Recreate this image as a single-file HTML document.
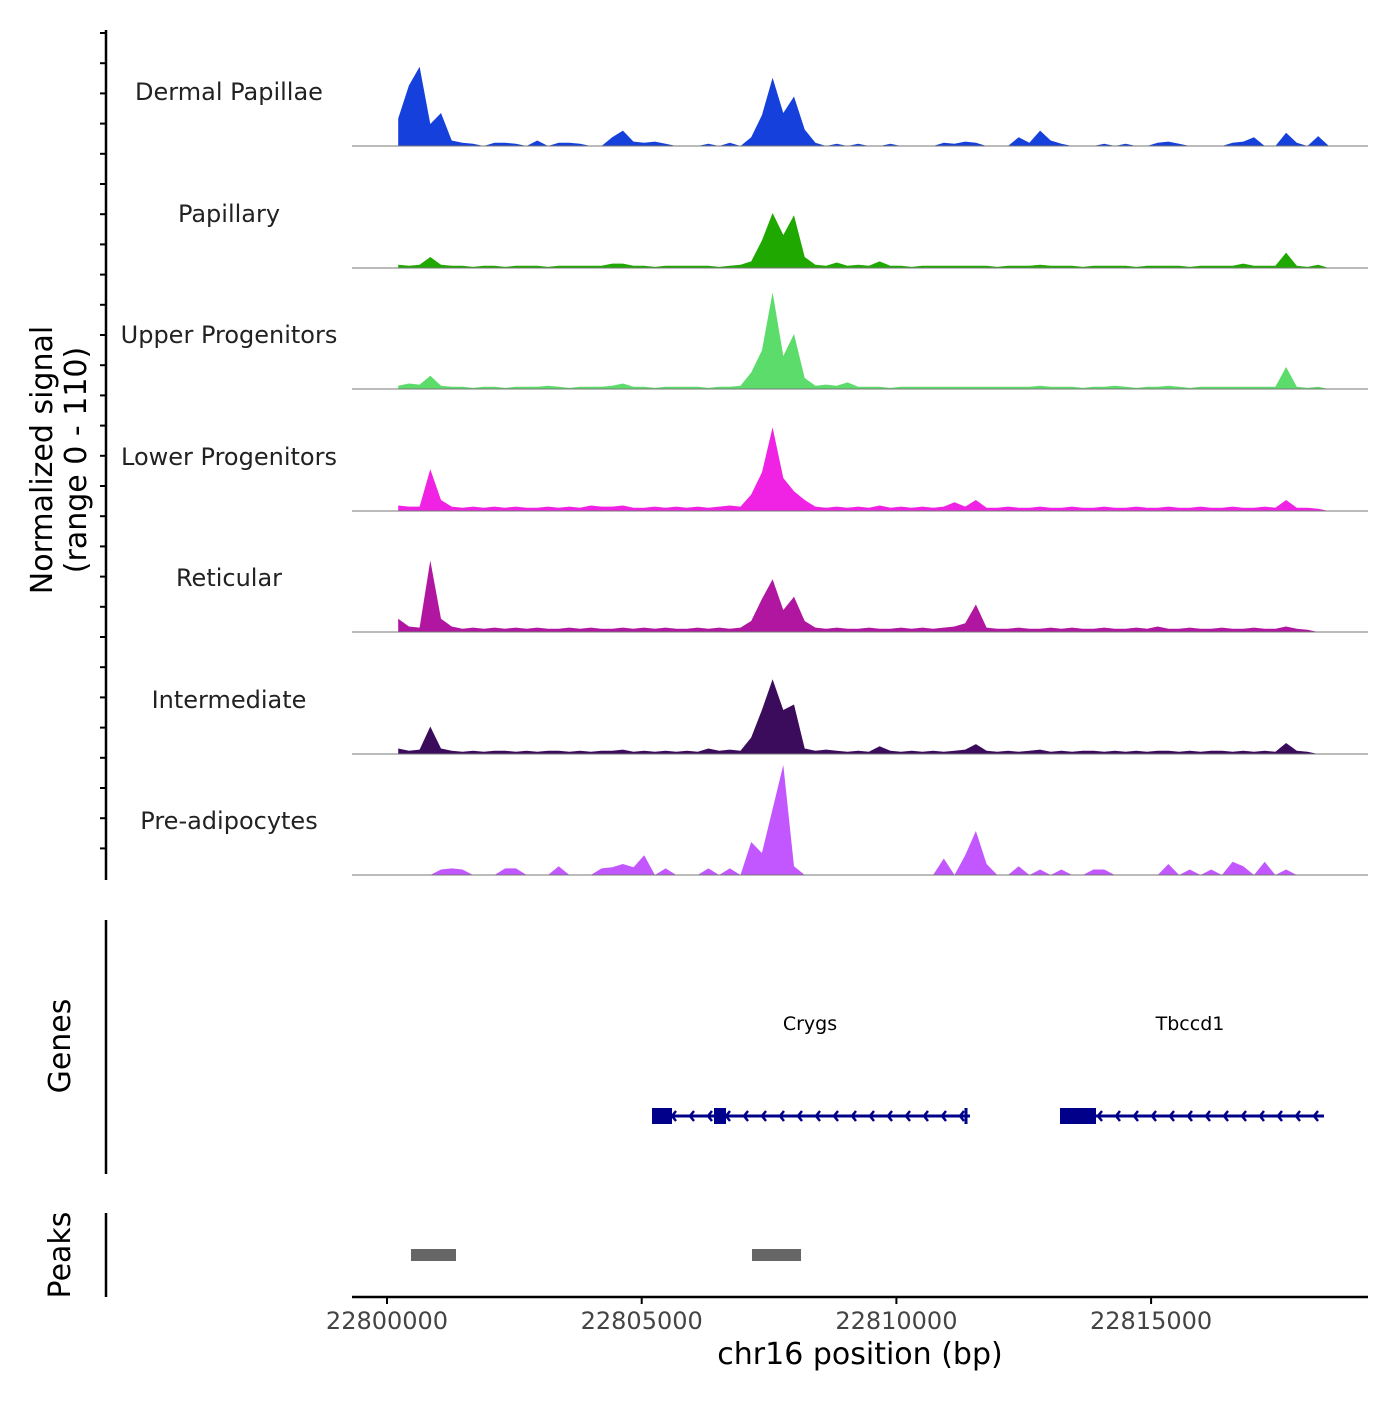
<!DOCTYPE html>
<html><head><meta charset="utf-8"><style>
body{margin:0;background:#fff;font-family:"Liberation Sans","DejaVu Sans",sans-serif}
svg text{font-family:"DejaVu Sans","Liberation Sans",sans-serif}
</style></head><body>
<svg id="chart" width="1400" height="1400" xmlns="http://www.w3.org/2000/svg">
<rect width="1400" height="1400" fill="#fff"/>
</svg>
<script>
const binStart = 22800220;
const binStep = 210;
const trackNames = ["Dermal Papillae","Papillary","Upper Progenitors","Lower Progenitors","Reticular","Intermediate","Pre-adipocytes"];
const trackColors = ["#1540dc","#1fa800","#5cdc6a","#f022e4","#b0169f","#3b0c5c","#c257ff"];
const dermalPapillae = [25,55,72,20,30,5,3,2,0,3,3,2,0,5,0,3,3,2,0,0,8,14,4,3,4,2,0,0,0,2,0,3,0,8,28,62,30,45,15,3,0,2,0,2,0,0,2,0,0,0,0,3,2,4,3,0,0,0,8,3,14,5,2,0,0,0,2,0,2,0,0,3,4,2,0,0,0,0,3,4,8,0,0,12,3,0,9,0];
const papillary = [3,2,3,10,3,2,2,1,2,2,1,2,2,2,1,2,2,2,2,2,4,4,2,2,1,2,2,2,2,2,1,2,3,6,25,50,30,48,10,3,2,5,2,3,2,6,2,2,1,2,2,2,2,2,2,2,1,2,2,2,3,2,2,2,1,2,2,2,2,1,2,2,2,2,1,2,2,2,2,4,2,2,2,14,2,1,3,0];
const upperProgenitors = [3,5,4,12,3,2,2,1,2,2,1,2,2,2,3,2,1,2,2,2,3,5,2,2,1,2,2,2,2,1,2,2,3,15,35,88,30,50,10,3,4,3,6,2,2,2,1,2,2,2,2,2,2,2,2,2,2,2,2,2,3,2,2,2,1,2,2,3,2,1,2,2,3,2,1,2,2,2,2,2,2,2,2,20,2,1,2,0];
const lowerProgenitors = [5,4,4,38,10,4,3,4,3,4,3,4,3,3,4,3,4,3,5,4,4,5,3,3,4,3,4,3,4,3,4,5,4,15,35,76,30,18,10,4,3,4,3,4,3,5,3,4,3,4,3,4,8,4,10,3,3,4,3,3,4,3,3,4,3,3,4,3,3,4,3,3,4,3,3,4,3,3,4,3,3,4,3,10,3,3,2,0];
const reticular = [12,5,4,65,12,5,3,4,3,4,3,4,3,4,3,3,4,3,4,3,3,4,3,4,3,4,3,3,4,3,4,3,4,10,30,48,20,32,10,4,3,4,3,3,4,3,3,4,3,4,3,4,5,8,25,4,3,3,4,3,3,4,3,4,3,3,4,3,3,4,3,5,3,3,4,3,3,4,3,3,4,3,3,5,3,2,0,0];
const intermediate = [5,3,4,25,5,3,2,3,2,3,3,2,3,2,3,3,2,3,2,3,3,4,2,3,2,3,2,3,2,5,3,4,3,15,40,68,40,45,5,3,4,3,2,3,2,7,3,2,3,2,3,2,3,4,9,3,2,3,2,3,4,2,3,2,3,3,2,3,2,3,2,3,3,2,3,2,3,3,2,3,2,3,2,10,3,2,0,0];
const preAdipocytes = [0,0,0,0,5,6,5,0,0,0,6,6,0,0,0,8,0,0,0,6,7,10,7,18,0,6,0,0,0,6,0,6,0,30,20,60,100,8,0,0,0,0,0,0,0,0,0,0,0,0,0,15,0,18,40,10,0,0,8,0,5,0,5,0,0,5,5,0,0,0,0,0,10,0,5,0,5,0,12,8,0,12,0,5,0,0,0,0];
const trackData = [dermalPapillae,papillary,upperProgenitors,lowerProgenitors,reticular,intermediate,preAdipocytes];
const xTicks = [22800000,22805000,22810000,22815000];
const yMax = 110;

const svg = document.getElementById('chart');
const NS = 'http://www.w3.org/2000/svg';
function mk(tag, attrs, parent){const e=document.createElementNS(NS,tag);for(const k in attrs)e.setAttribute(k,attrs[k]);(parent||svg).appendChild(e);return e;}
const plotL = 352, plotR = 1368;
const xScale = bp => 387 + (bp - 22800000) * 0.05094;
const baselines = [146,268,389,511,632,754,875];
const trackH = 121;
const yScale = (v, b) => b - v / yMax * trackH;

trackData.forEach((arr, t) => {
  const b = baselines[t];
  let d = 'M' + xScale(binStart).toFixed(1) + ',' + b;
  arr.forEach((v, i) => { d += ' L' + xScale(binStart + i * binStep).toFixed(1) + ',' + yScale(v, b).toFixed(1); });
  d += ' L' + xScale(binStart + (arr.length - 1) * binStep).toFixed(1) + ',' + b + ' Z';
  const p = mk('path', {d: d, fill: trackColors[t]});
  
  
  const bl = mk('line', {x1: plotL, x2: plotR, y1: b, y2: b, stroke: '#777', 'stroke-width': 1});
  
  
  const lb = mk('text', {x: 229, y: b - 46, 'text-anchor': 'middle', 'font-size': 24, fill: '#222'});
  lb.textContent = trackNames[t];
  
  
});

const ax = mk('line', {x1: 106, x2: 106, y1: 30, y2: 880, stroke: '#000', 'stroke-width': 2.5});


for (let y = 33; y <= 878; y += 30.2) {
  const tk = mk('line', {x1: 100, x2: 106, y1: y, y2: y, stroke: '#000', 'stroke-width': 2});
  
  
}
const yt = mk('text', {transform: 'translate(52,460) rotate(-90)', 'text-anchor': 'middle', 'font-size': 30, fill: '#000'});


yt.innerHTML = '<tspan x="0" y="0">Normalized signal</tspan><tspan x="0" y="34">(range 0 - 110)</tspan>';

const gax = mk('line', {x1: 106, x2: 106, y1: 920, y2: 1174, stroke: '#000', 'stroke-width': 2.5});


const gt = mk('text', {transform: 'translate(70,1046) rotate(-90)', 'text-anchor': 'middle', 'font-size': 30});
gt.textContent = 'Genes';


const pax = mk('line', {x1: 106, x2: 106, y1: 1213, y2: 1297, stroke: '#000', 'stroke-width': 2.5});


const pt = mk('text', {transform: 'translate(70,1255) rotate(-90)', 'text-anchor': 'middle', 'font-size': 30});
pt.textContent = 'Peaks';



function gene(name, x1, x2, boxes, labelX) {
  const g = mk('g', {});
  
  
  mk('line', {x1: x1, x2: x2, y1: 1116, y2: 1116, stroke: '#00008b', 'stroke-width': 3}, g);
  boxes.forEach(bx => mk('rect', {x: bx[0], y: 1108, width: bx[1] - bx[0], height: 16, fill: '#00008b'}, g));
  for (let x = x1 + 20; x < x2 - 4; x += 18) {
    mk('path', {d: 'M' + (x + 4) + ',1111 L' + x + ',1116 L' + (x + 4) + ',1121', stroke: '#00008b', 'stroke-width': 2.5, fill: 'none'}, g);
  }
  const t = mk('text', {x: labelX, y: 1030, 'text-anchor': 'middle', 'font-size': 19}, g);
  t.textContent = name;
}
gene('Crygs', 652, 970, [[652, 672], [714, 726]], 810);
mk('line', {x1: 966, x2: 966, y1: 1108, y2: 1124, stroke: '#00008b', 'stroke-width': 3});
gene('Tbccd1', 1060, 1324, [[1060, 1096]], 1190);

[[411, 456], [752, 801]].forEach(p => {
  const r = mk('rect', {x: p[0], y: 1249, width: p[1] - p[0], height: 12, fill: '#666'});
  
  
});

const xa = mk('line', {x1: plotL, x2: plotR, y1: 1297, y2: 1297, stroke: '#000', 'stroke-width': 2.5});


xTicks.forEach(v => {
  const x = xScale(v);
  const tk = mk('line', {x1: x, x2: x, y1: 1297, y2: 1304, stroke: '#000', 'stroke-width': 2});
  
  
  const tl = mk('text', {x: x, y: 1329, 'text-anchor': 'middle', 'font-size': 24, fill: '#444'});
  tl.textContent = v;
  
  
});
const xt = mk('text', {x: 860, y: 1364, 'text-anchor': 'middle', 'font-size': 30});
xt.textContent = 'chr16 position (bp)';


</script>
</body></html>
